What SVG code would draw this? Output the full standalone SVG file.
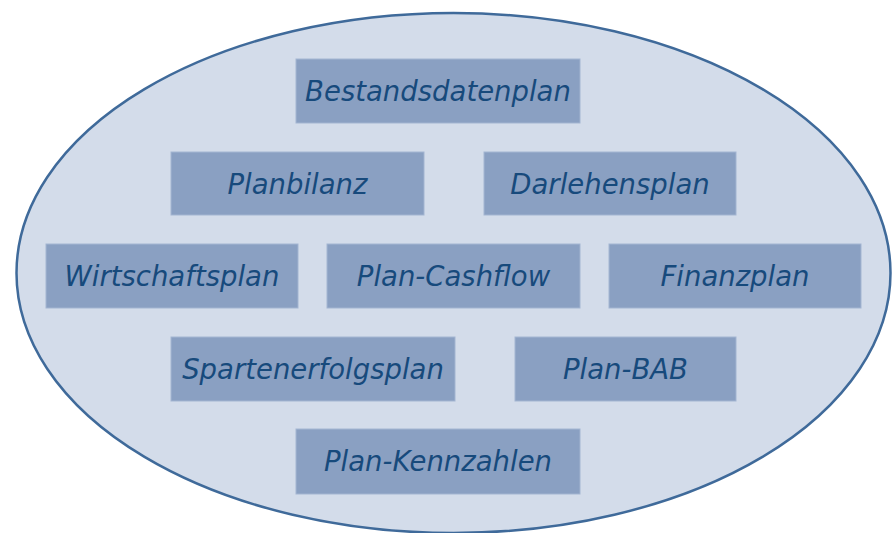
<svg xmlns="http://www.w3.org/2000/svg" width="893" height="533" viewBox="0 0 893 533">
<style>
.box{fill:#8aa0c2;stroke:#a3b5d1;stroke-width:1}
.lbl{font-family:"DejaVu Sans",Verdana,sans-serif;font-style:italic;font-size:27.5px;fill:#174a7c;text-anchor:middle}
</style>
<rect width="893" height="533" fill="#ffffff"/>
<ellipse cx="453.5" cy="273" rx="437" ry="260" fill="#d3dcea" stroke="#3f6a9a" stroke-width="2.5"/>
<g id="bestandsdatenplan"><rect class="box" x="296" y="59" width="284" height="64"/><text class="lbl" x="438" y="101">Bestandsdatenplan</text></g>
<g id="planbilanz"><rect class="box" x="171" y="152" width="253" height="63"/><text class="lbl" x="297.5" y="194">Planbilanz</text></g>
<g id="darlehensplan"><rect class="box" x="484" y="152" width="252" height="63"/><text class="lbl" x="610" y="194">Darlehensplan</text></g>
<g id="wirtschaftsplan"><rect class="box" x="46" y="244" width="252" height="64"/><text class="lbl" x="172" y="286">Wirtschaftsplan</text></g>
<g id="plan-cashflow"><rect class="box" x="327" y="244" width="253" height="64"/><text class="lbl" x="453.5" y="286">Plan-Cashflow</text></g>
<g id="finanzplan"><rect class="box" x="609" y="244" width="252" height="64"/><text class="lbl" x="735" y="286">Finanzplan</text></g>
<g id="spartenerfolgsplan"><rect class="box" x="171" y="337" width="284" height="64"/><text class="lbl" x="313" y="379">Spartenerfolgsplan</text></g>
<g id="plan-bab"><rect class="box" x="515" y="337" width="221" height="64"/><text class="lbl" x="625.5" y="379">Plan-BAB</text></g>
<g id="plan-kennzahlen"><rect class="box" x="296" y="429" width="284" height="65"/><text class="lbl" x="438" y="471">Plan-Kennzahlen</text></g>
<g id="connectors"/>
</svg>
